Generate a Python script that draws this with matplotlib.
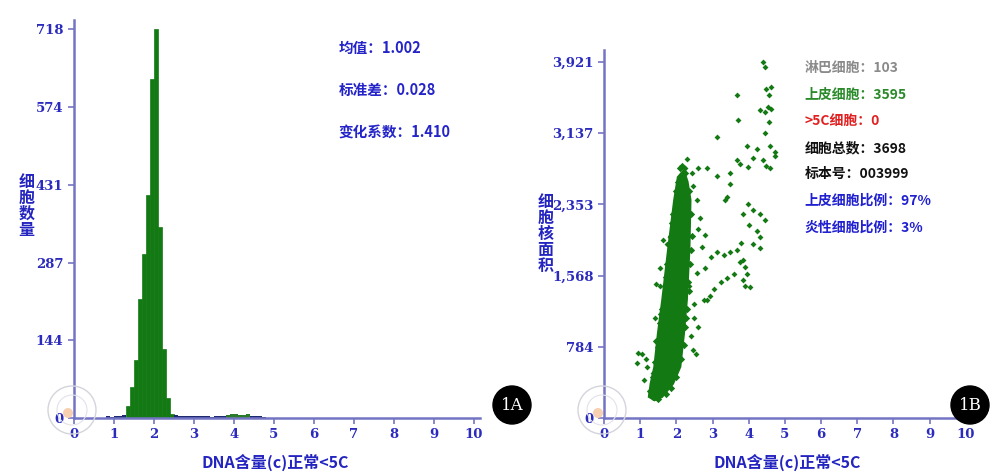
import numpy as np
import matplotlib.pyplot as plt
from matplotlib.patches import Ellipse, Polygon

plt.rcParams['font.family'] = ['Noto Sans CJK SC', 'DejaVu Sans']

# ---- panel A: DNA histogram ----
hist_left = [1.3, 1.4, 1.5, 1.6, 1.7, 1.8, 1.9, 2.0, 2.1, 2.2, 2.3, 2.4]
hist_count = [22, 57, 108, 219, 303, 412, 626, 718, 353, 128, 36, 8]
tail_left = [0.8, 0.9, 1.0, 1.1, 1.2, 2.5, 2.6, 2.7, 2.8, 2.9, 3.0, 3.1, 3.2, 3.3,
             3.4, 3.5, 3.6, 3.7, 4.4, 4.5, 4.6, 4.7]
tail_count = [3, 2, 3, 4, 6, 5, 4, 4, 3, 3, 4, 3, 3, 3, 2, 3, 3, 4, 4, 3, 3, 2]
bump_left = [3.8, 3.9, 4.0, 4.1, 4.2, 4.3]
bump_count = [5, 7, 8, 6, 5, 7]
hist_yticks = [0, 144, 287, 431, 574, 718]
stats_a = ['均值：1.002', '标准差：0.028', '变化系数：1.410']

# ---- panel B: DNA vs nuclear area scatter ----
core_x = [1.25, 1.30, 1.40, 1.50, 1.62, 1.78, 1.95, 2.05, 2.20,
          2.30, 2.38, 2.35, 2.28, 2.20, 2.10, 1.90, 1.60, 1.40]
core_y = [235, 380, 560, 930, 1300, 1850, 2400, 2650, 2720,
          2600, 2400, 1850, 1300, 930, 565, 380, 235, 200]
edge_x = [1.28, 1.35, 1.42, 1.48, 1.55, 1.60, 1.68, 1.75, 1.85, 1.92, 2.00, 2.10,
          2.15, 2.25, 2.35, 2.40, 2.42, 2.38, 2.33, 2.30, 2.25, 2.20, 2.12, 2.00,
          1.85, 1.70, 1.50, 1.35, 1.45, 1.58, 1.72, 1.88, 2.40, 2.36, 2.27, 2.05]
edge_y = [300, 450, 620, 780, 1050, 1200, 1450, 1700, 2000, 2250, 2500, 2750,
          2780, 2700, 2500, 2250, 2000, 1700, 1500, 1200, 1000, 800, 650, 450,
          330, 260, 210, 230, 850, 1150, 1550, 2150, 1850, 1400, 1100, 2600]
pts_x = [4.40, 4.45, 3.67, 4.49, 4.57, 4.62, 4.30, 4.45, 4.52, 4.62, 3.71, 4.55,
         3.13, 4.45, 3.94, 4.22, 4.58, 4.72, 4.72, 3.67, 3.76, 3.49, 4.40, 4.49,
         4.58, 3.98, 4.13, 2.23, 2.44, 2.60, 2.85, 3.49, 3.40, 3.12, 3.98, 3.85,
         4.13, 4.31, 4.45, 3.35, 2.57, 4.22, 4.31, 4.13, 4.31, 2.60, 2.78, 2.70,
         2.96, 3.12, 3.31, 3.49, 3.67, 3.76, 3.85, 3.90, 3.94, 3.85, 3.90, 4.03,
         3.40, 3.22, 3.03, 2.94, 2.85, 2.76, 2.60, 2.78, 2.57, 2.45, 2.54, 0.95,
         0.92, 1.15, 1.06, 1.64, 1.73, 1.82, 1.45, 1.54, 2.40, 2.50, 1.20, 1.35,
         3.58, 3.80, 4.00, 2.65, 2.30, 2.45, 1.10, 1.30, 2.50, 2.35, 1.40, 1.55]
pts_y = [3923, 3860, 3556, 3620, 3560, 3650, 3390, 3370, 3420, 3400, 3280, 3256,
         3098, 3136, 2990, 2960, 2990, 2880, 2930, 2840, 2800, 2700, 2840, 2770,
         2750, 2760, 2860, 2750, 2700, 2750, 2750, 2580, 2430, 2660, 2360, 2250,
         2290, 2250, 2180, 2400, 2400, 2060, 1990, 1920, 1870, 2080, 2020, 1880,
         1770, 1830, 1800, 1830, 1850, 1720, 1740, 1660, 1590, 1520, 1450, 1440,
         1540, 1500, 1420, 1340, 1300, 1300, 1000, 1650, 1600, 750, 700, 720,
         600, 650, 700, 1960, 1920, 1990, 1480, 1450, 900, 1100, 560, 500,
         1580, 1930, 2130, 2200, 2850, 2550, 420, 300, 1250, 1450, 1100, 1650]
scatter_yticks = [0, 784, 1568, 2353, 3137, 3921]
scatter_yticklabels = ['0', '784', '1,568', '2,353', '3,137', '3,921']
legend_b = ['淋巴细胞：103', '上皮细胞：3595', '>5C细胞：0', '细胞总数：3698',
            '标本号：003999', '上皮细胞比例：97%', '炎性细胞比例：3%']
legend_colors = ['#8a8a8a', '#2a8a2a', '#e02020', '#111111', '#111111', '#2020d0', '#2020d0']

axis_col = '#7474c4'
tick_col = '#2b2bbd'
green = '#137a13'

fig = plt.figure(figsize=(9.9, 4.73), dpi=100)


def style_axes(ax):
    for s in ['top', 'right']:
        ax.spines[s].set_visible(False)
    for s in ['left', 'bottom']:
        ax.spines[s].set_color(axis_col)
        ax.spines[s].set_linewidth(1.8)
    ax.tick_params(colors=axis_col, labelcolor=tick_col, length=4, width=1.2, labelsize=9.5)
    for lab in ax.get_xticklabels() + ax.get_yticklabels():
        lab.set_fontweight('bold')
        lab.set_family('DejaVu Serif')


def circle(cx, cy, r, **kw):
    # circle given in pixels, drawn in figure fraction
    fig.patches.append(Ellipse((cx / 990, 1 - cy / 473), 2 * r / 990, 2 * r / 473,
                               transform=fig.transFigure, **kw))


# panel A
ax1 = fig.add_axes([0.0747, 0.1163, 0.410, 0.8414])
ax1.bar(hist_left, hist_count, width=0.1, align='edge', color=green, edgecolor=green, linewidth=0.5)
ax1.bar(tail_left, tail_count, width=0.1, align='edge', color='#1e2a70', linewidth=0)
ax1.bar(bump_left, bump_count, width=0.1, align='edge', color='#2a7a2a', linewidth=0)
ax1.set_xlim(0, 10.15)
ax1.set_ylim(0, 735)
ax1.set_xticks(range(11))
ax1.set_yticks(hist_yticks)
style_axes(ax1)
for i, s in enumerate(stats_a):
    ax1.text(0.652, 0.93 - i * 0.105, s, transform=ax1.transAxes, color='#2424c8',
             fontsize=10.5, fontweight='bold', va='center')

# panel B
ax2 = fig.add_axes([0.6101, 0.1163, 0.3717, 0.778])
ax2.add_patch(Polygon(np.column_stack([core_x, core_y]), closed=True,
                      facecolor=green, edgecolor=green, linewidth=2))
ax2.scatter(edge_x, edge_y, s=14, color=green, marker='D', linewidths=0)
ax2.scatter(pts_x, pts_y, s=9, color=green, marker='D', linewidths=0)
ax2.set_xlim(0, 10.17)
ax2.set_ylim(0, 4052)
ax2.set_xticks(range(11))
ax2.set_yticks(scatter_yticks)
ax2.set_yticklabels(scatter_yticklabels)
style_axes(ax2)
for i, (s, c) in enumerate(zip(legend_b, legend_colors)):
    ax2.text(0.545, 0.95 - i * 0.072, s, transform=ax2.transAxes, color=c,
             fontsize=10, fontweight='bold', va='center')

# axis titles
for x, lab in [(0.278, 'DNA含量(c)正常<5C'), (0.795, 'DNA含量(c)正常<5C')]:
    fig.text(x, 0.022, lab, ha='center', va='center', color='#2424c0', fontsize=11.5, fontweight='bold')
fig.text(0.027, 0.565, '细\n胞\n数\n量', ha='center', va='center', color='#2424c0',
         fontsize=11.5, fontweight='bold', linespacing=1.0)
fig.text(0.551, 0.505, '细\n胞\n核\n面\n积', ha='center', va='center', color='#2424c0',
         fontsize=11.5, fontweight='bold', linespacing=1.0)

# faint logo at the origins and panel badges
for cx in [72, 602]:
    circle(cx, 410, 24, facecolor='none', edgecolor='#d4d4dc', linewidth=1, zorder=0)
    circle(cx, 410, 15, facecolor='none', edgecolor='#e2e2ea', linewidth=0.8, zorder=0)
    circle(cx - 4, 413, 5, facecolor='#f6d0b0', edgecolor='none', zorder=0)
for cx, lab in [(512, '1A'), (970, '1B')]:
    circle(cx, 405, 19, facecolor='black', edgecolor='black')
    fig.text(cx / 990, 1 - 405 / 473, lab, ha='center', va='center', color='white',
             fontsize=12, family='DejaVu Serif')

fig.savefig('out.png', dpi=100)
